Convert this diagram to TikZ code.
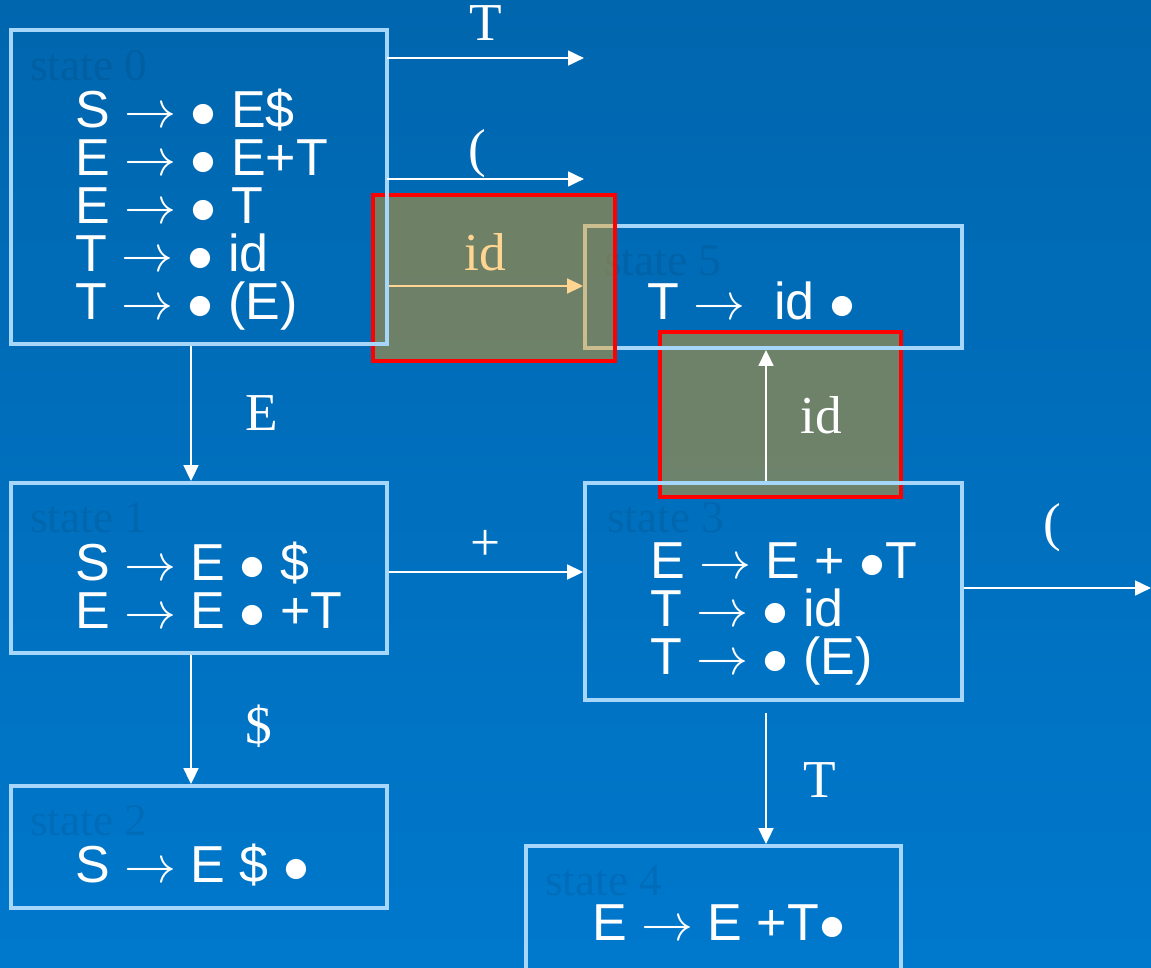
\RequirePackage{fix-cm}
\documentclass[tikz,border=0pt]{standalone}
\usepackage{fontspec}
\setmainfont{Liberation Serif}
\newfontfamily\itemfont{Liberation Sans}
\usetikzlibrary{arrows.meta,fit}

\definecolor{bgtop}{RGB}{0,102,174}
\definecolor{bgbot}{RGB}{0,120,204}
\definecolor{boxline}{RGB}{166,214,250}
\definecolor{hiliteorange}{RGB}{255,158,0}

\tikzset{
  statebox/.style={draw=boxline, line width=2.8pt, inner sep=0pt},
  hilite/.style={draw=red, line width=3pt, fill=hiliteorange, fill opacity=0.43, inner sep=0pt},
  item/.style={text=white, inner sep=0pt, align=left, anchor=north west,
    font=\itemfont\fontsize{39}{36}\selectfont},
  statelabel/.style={text=black, text opacity=0.08, inner sep=0pt, anchor=base west,
    font=\fontsize{34}{34}\selectfont},
  edgelabel/.style={text=white, inner sep=0pt, font=\fontsize{40}{40}\selectfont},
  edge/.style={draw=white, line width=2pt, -{Triangle[length=12pt,width=11pt]}}
}

\begin{document}
\begin{tikzpicture}[x=0.75pt,y=0.75pt,yscale=-1]
%Background
\shade [top color=bgtop, bottom color=bgbot] (0,0) rectangle (1151,967);
\useasboundingbox (0,0) rectangle (1151,967);

%State 0 (outline drawn later, above the highlight)
\node [inner sep=0pt, fit={(11,30) (387,344)}] (s0) {};

%Highlight under state 5 / state 3
\node [hilite, fit={(660,332) (901,497)}] (hlB) {};

%State 5
\node [statebox, fit={(585,226) (962,348)}] (s5) {};
\node [statelabel] (s5lbl) at (604,275) {state 5};
\node [item] (s5txt) at (647,282) {T \(\rightarrow\)\ \ id \(\bullet\)};

%State 3
\node [statebox, fit={(585,483) (962,700)}] (s3) {};
\node [statelabel] (s3lbl) at (607,532) {state 3};
\node [item] (s3txt) at (650,542) {E \(\rightarrow\) E + \(\bullet\)T\\T \(\rightarrow\) \(\bullet\) id\\T \(\rightarrow\) \(\bullet\) (E)};

%State 1
\node [statebox, fit={(11,483) (387,653)}] (s1) {};
\node [statelabel] (s1lbl) at (30,532) {state 1};
\node [item] (s1txt) at (75,542) {S \(\rightarrow\) E \(\bullet\) \$\\E \(\rightarrow\) E \(\bullet\) +T};

%State 2
\node [statebox, fit={(11,786) (387,908)}] (s2) {};
\node [statelabel] (s2lbl) at (30,835) {state 2};
\node [item] (s2txt) at (75,844) {S \(\rightarrow\) E \$ \(\bullet\)};

%State 4
\node [statebox, fit={(526,846) (901,990)}] (s4) {};
\node [statelabel] (s4lbl) at (545,895) {state 4};
\node [item] (s4txt) at (592,904) {E \(\rightarrow\) E +T\(\bullet\)};

%Free ends
\coordinate (tEnd) at (584,58);
\coordinate (lpEnd) at (584,179);
\coordinate (rpEnd) at (1151,588);

%Transitions
\draw [edge] (s0.east |- 0,286) -- node [edgelabel, above=10pt] {id} (s5.west |- 0,286);
\draw [edge] (s3.north -| 766,0) -- node [edgelabel, right=25pt] {id} (s5.south -| 766,0);
\draw [edge] (s1.east |- 0,572) -- node [edgelabel, above=8pt] {+} (s3.west |- 0,572);
\draw [edge] (s0.south -| 191,0) -- node [edgelabel, right=40pt] {E} (s1.north -| 191,0);
\draw [edge] (s1.south -| 191,0) -- node [edgelabel, right=40pt, yshift=-5pt] {\$} (s2.north -| 191,0);
\draw [edge, shorten <=8pt] (s3.south -| 766,0) -- node [edgelabel, right=27pt, yshift=-5pt] {T} (s4.north -| 766,0);
\draw [edge] (s3.east |- rpEnd) -- node [edgelabel, above=26pt, xshift=-4pt] {(} (rpEnd);

%Highlight over the id move
\node [hilite, fit={(373,195) (615,361)}] (hlA) {};

%State 0
\draw [statebox] (s0.north west) rectangle (s0.south east);
\node [statelabel] (s0lbl) at (30,80) {state 0};
\node [item] (s0txt) at (75,89) {S \(\rightarrow\) \(\bullet\) E\$\\E \(\rightarrow\) \(\bullet\) E+T\\E \(\rightarrow\) \(\bullet\) T\\T \(\rightarrow\) \(\bullet\) id\\T \(\rightarrow\) \(\bullet\) (E)};

\draw [edge] (s0.east |- tEnd) -- node [edgelabel, above=12pt] {T} (tEnd);
\draw [edge] (s0.east |- lpEnd) -- node [edgelabel, above=0pt, xshift=-6pt] {(} (lpEnd);

\end{tikzpicture}
\end{document}
